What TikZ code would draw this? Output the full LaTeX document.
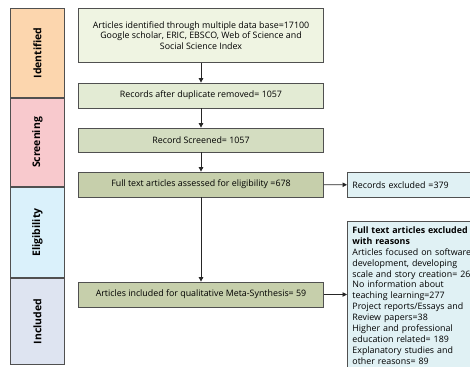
\documentclass[tikz,border=0pt]{standalone}
\usepackage{fontspec}
\setmainfont{Open Sans}
\usetikzlibrary{positioning,arrows.meta}
\definecolor{idcol}{HTML}{FCD6AE}
\definecolor{scrcol}{HTML}{F8C9CD}
\definecolor{elicol}{HTML}{DAF1FB}
\definecolor{inccol}{HTML}{DEE4F1}
\definecolor{boxA}{HTML}{EFF4E2}
\definecolor{boxB}{HTML}{E3EBD4}
\definecolor{boxC}{HTML}{D4DDC1}
\definecolor{boxD}{HTML}{C6CFAB}
\definecolor{exclcol}{HTML}{E0F1F4}
\definecolor{edge}{HTML}{505050}
\tikzset{
  phase/.style={draw=edge, line width=0.9pt, rotate=90, minimum width=#1, minimum height=55,
    inner sep=0pt, font=\fontsize{10.5}{12}\selectfont\bfseries},
  stagebox/.style={draw=edge, line width=0.9pt, minimum width=246, minimum height=#1,
    inner sep=2pt, align=center, font=\fontsize{8.9}{10.8}\selectfont},
  exclbox/.style={draw=edge, line width=0.9pt, fill=exclcol, anchor=north west,
    font=\fontsize{8.9}{11}\selectfont},
  flow/.style={-{Triangle[length=4.5pt,width=4.5pt]}, line width=0.9pt, black!85}
}
\begin{document}
\begin{tikzpicture}[x=1bp, y=-1bp]
\useasboundingbox (0,0) rectangle (470,366);
\clip (0,0) rectangle (470,366);
% phases
\node[phase=90, fill=idcol] (ident) at (37.5,53) {Identified};
\node[phase=89, fill=scrcol] (screen) at (37.5,142.5) {Screening};
\node[phase=91, fill=elicol] (elig) at (37.5,232.5) {Eligibility};
\node[phase=87, fill=inccol] (incl) at (37.5,321.5) {Included};
% flow boxes
\node[stagebox=55, fill=boxA] (found) at (201,35.5)
  {Articles identified through multiple data base=17100\\
   Google scholar, ERIC, EBSCO, Web of Science and\\
   Social Science Index};
\node[stagebox=25, fill=boxB] (dedup) at (201,95.5) {Records after duplicate removed= 1057};
\node[stagebox=24, fill=boxC] (screened) at (201,140) {Record Screened= 1057};
\node[stagebox=25, fill=boxD] (fulltext) at (201,184.5) {Full text articles assessed for eligibility =678};
\node[stagebox=25, fill=boxD] (meta) at (201,294.5) {Articles included for qualitative Meta-Synthesis= 59};
% excluded
\node[exclbox, minimum width=150, minimum height=25, inner sep=5pt, text width=140, align=left]
  (recexcl) at (347,172) {Records excluded =379};
\node[exclbox, minimum width=150, minimum height=144, inner sep=5pt, text width=140, align=left]
  (reasons) at (347,221)
  {\textbf{Full text articles excluded}\\
   \textbf{with reasons}\\
   Articles focused on software\\
   development, developing\\
   scale and story creation= 26\\
   No information about\\
   teaching learning=277\\
   Project reports/Essays and\\
   Review papers=38\\
   Higher and professional\\
   education related= 189\\
   Explanatory studies and\\
   other reasons= 89};
% arrows
\draw[flow] (found) -- (dedup);
\draw[flow] (dedup) -- (screened);
\draw[flow] (screened) -- (fulltext);
\draw[flow] (fulltext) -- (meta);
\draw[flow] (fulltext) -- (recexcl);
\draw[flow] (meta.east) -- (meta.east -| reasons.west);
\end{tikzpicture}
\end{document}
